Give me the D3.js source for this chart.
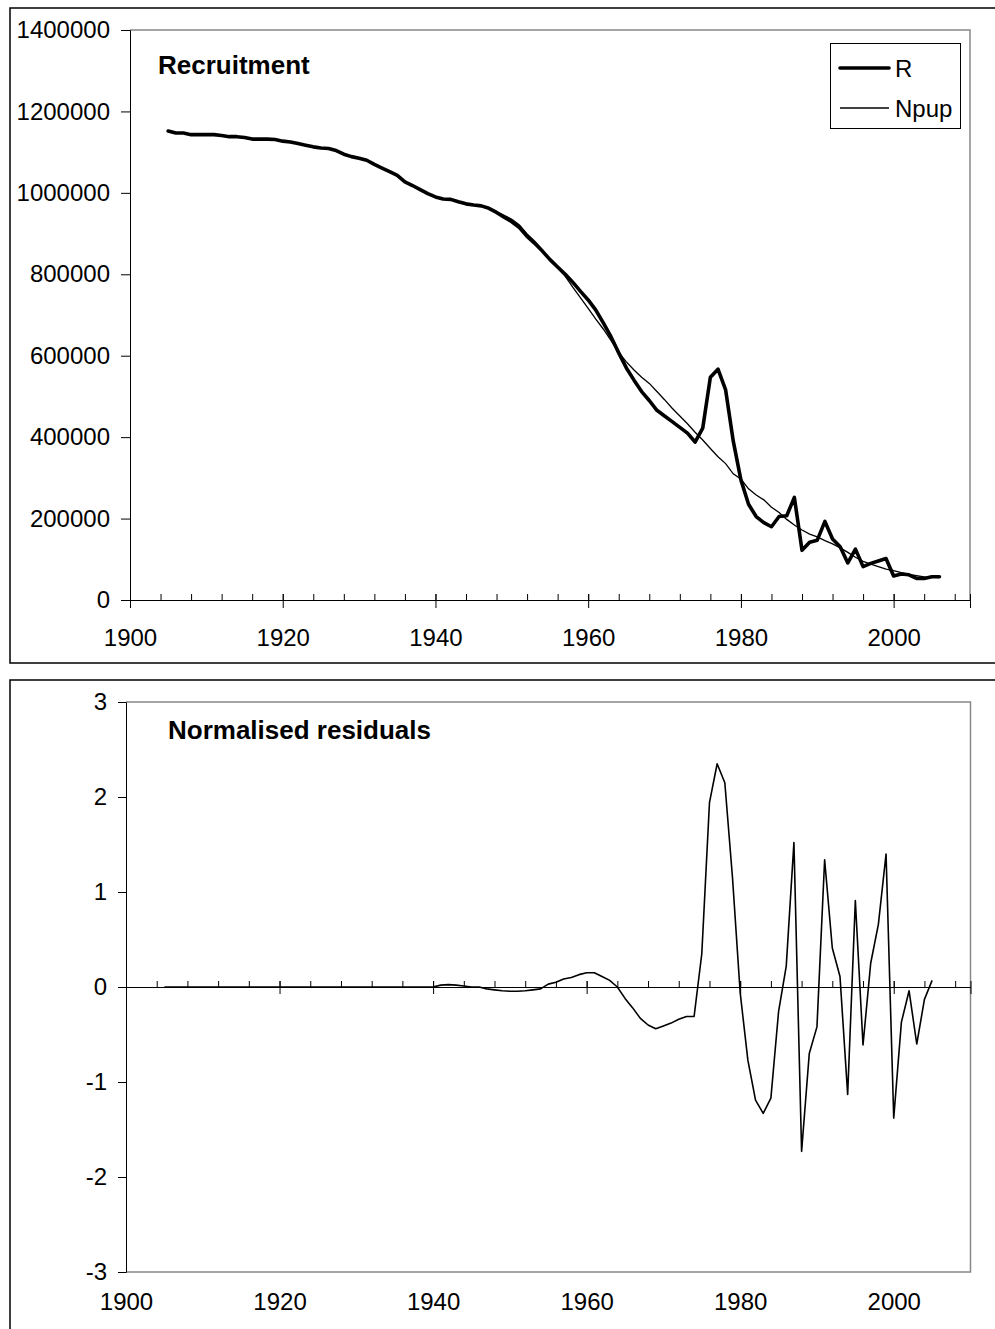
<!DOCTYPE html>
<html>
<head>
<meta charset="utf-8">
<script src="https://cdn.jsdelivr.net/npm/d3@7/dist/d3.min.js"></script>
<style>
  html, body { margin: 0; padding: 0; background: #fff; }
  svg { display: block; font-family: "Liberation Sans", Arial, sans-serif; }
  .tick text { fill: #000; }
</style>
</head>
<body>
<svg id="chart" width="995" height="1329"></svg>
<script>
// Recruitment series R and fitted pup numbers Npup, 1905-2006
const firstYear = 1905;
const recruitR = [
  1152000, 1147000, 1147000, 1143000, 1143000, 1143000, 1143000, 1141000, 1138000, 1138000,
  1136000, 1132000, 1132000, 1132000, 1131000, 1127000, 1125000, 1121000, 1117000, 1113000,
  1110000, 1109000, 1104000, 1095000, 1089000, 1085000, 1080000, 1070000, 1061000, 1052000,
  1043000, 1027000, 1018000, 1008000, 998000, 990000, 985000, 984000, 978000, 973000,
  970000, 968000, 962000, 952000, 940000, 929000, 915000, 893000, 876000, 857000,
  836000, 818000, 800000, 780000, 758000, 737000, 712000, 680000, 646000, 607000,
  570000, 540000, 512000, 490000, 466000, 452000, 438000, 424000, 410000, 388000,
  422000, 547000, 567000, 516000, 390000, 295000, 235000, 205000, 190000, 180000,
  205000, 207000, 252000, 122000, 142000, 147000, 193000, 150000, 131000, 91000,
  125000, 82000, 90000, 96000, 102000, 59000, 64000, 62000, 53000, 53000,
  57000, 57000
];
const pupsN = [
  1152000, 1147000, 1147000, 1143000, 1143000, 1143000, 1143000, 1141000, 1138000, 1138000,
  1136000, 1132000, 1132000, 1132000, 1131000, 1127000, 1125000, 1121000, 1117000, 1113000,
  1110000, 1109000, 1104000, 1095000, 1089000, 1085000, 1080000, 1070000, 1061000, 1052000,
  1043000, 1027000, 1018000, 1008000, 998000, 990000, 985000, 984000, 978000, 973000,
  970000, 968000, 963000, 954000, 945000, 935000, 921000, 899000, 881000, 860000,
  836000, 815000, 795000, 768000, 742000, 716000, 690000, 665000, 637000, 608000,
  585000, 565000, 547000, 532000, 512000, 492000, 471000, 452000, 433000, 412000,
  393000, 372000, 352000, 335000, 310000, 297000, 273000, 258000, 246000, 228000,
  215000, 198000, 184000, 172000, 162000, 155000, 146000, 138000, 128000, 117000,
  105000, 95000, 88000, 82000, 76000, 72000, 67000, 63000, 60000, 57000,
  56000, 55000
];
// Normalised residuals, 1905-2005
const residuals = [
  0, 0, 0, 0, 0, 0, 0, 0, 0, 0,
  0, 0, 0, 0, 0, 0, 0, 0, 0, 0,
  0, 0, 0, 0, 0, 0, 0, 0, 0, 0,
  0, 0, 0, 0, 0, 0, 0.02, 0.025, 0.02, 0.01,
  0, 0, -0.02, -0.03, -0.04, -0.045, -0.045, -0.04, -0.03, -0.02,
  0.03, 0.05, 0.085, 0.1, 0.13, 0.15, 0.15, 0.11, 0.07, 0.0,
  -0.12, -0.22, -0.33, -0.40, -0.44, -0.41, -0.38, -0.34, -0.31, -0.31,
  0.35, 1.94, 2.35, 2.15, 1.15, -0.06, -0.77, -1.19, -1.33, -1.17,
  -0.26, 0.22, 1.52, -1.73, -0.70, -0.42, 1.34, 0.41, 0.11, -1.13,
  0.91, -0.61, 0.25, 0.66, 1.40, -1.38, -0.37, -0.04, -0.60, -0.13,
  0.07
];

// Axis ticks
const yearDomain = [1900, 2010];
const majorYears = [1900, 1920, 1940, 1960, 1980, 2000];
const minorYears = d3.range(1900, 2010, 4);
const recruitTicks = [0, 200000, 400000, 600000, 800000, 1000000, 1200000, 1400000];
const residualTicks = [-3, -2, -1, 0, 1, 2, 3];

const seriesR = recruitR.map((v, i) => ({ year: firstYear + i, value: v }));
const seriesN = pupsN.map((v, i) => ({ year: firstYear + i, value: v }));
const seriesRes = residuals.map((v, i) => ({ year: firstYear + i, value: v }));

const svg = d3.select("#chart");
const FONT = 24;
// plain integers with an ASCII hyphen for negatives
const intFmt = d => String(Math.round(d));

function frame(y0, h) {
  svg.append("rect")
    .attr("x", 10).attr("y", y0).attr("width", 1000).attr("height", h)
    .attr("fill", "none").attr("stroke", "#000").attr("stroke-width", 1.5);
}

function styleAxis(g) {
  g.selectAll(".domain").attr("stroke", "#000").attr("stroke-width", 1);
  g.selectAll(".tick line").attr("stroke", "#000").attr("stroke-width", 1);
  g.selectAll(".tick text").attr("font-size", FONT);
}

// ---------- Recruitment panel ----------
frame(8, 655);
const p1 = { left: 130, right: 970, top: 30, bottom: 600 };
const x1 = d3.scaleLinear().domain(yearDomain).range([p1.left, p1.right]);
const y1 = d3.scaleLinear().domain([0, 1400000]).range([p1.bottom, p1.top]);

// plot area border (top / right in grey)
svg.append("path")
  .attr("d", `M${p1.left},${p1.top}H${p1.right}V${p1.bottom}`)
  .attr("fill", "none").attr("stroke", "#888").attr("stroke-width", 1.5);

svg.append("g").attr("transform", `translate(${p1.left},0)`)
  .call(d3.axisLeft(y1).tickValues(recruitTicks).tickSize(9).tickPadding(11).tickFormat(intFmt))
  .call(styleAxis);

svg.append("g").attr("transform", `translate(0,${p1.bottom})`)
  .call(d3.axisTop(x1).tickValues(minorYears).tickSize(6).tickFormat(""))
  .call(styleAxis);
svg.append("g").attr("transform", `translate(0,${p1.bottom})`)
  .call(d3.axisBottom(x1).tickValues(majorYears).tickSize(8).tickPadding(21).tickFormat(intFmt))
  .call(styleAxis)
  .call(g => g.selectAll(".tick line").attr("y1", -6));

const line1 = d3.line().x(d => x1(d.year)).y(d => y1(d.value));
svg.append("path").datum(seriesN)
  .attr("d", line1).attr("fill", "none").attr("stroke", "#000").attr("stroke-width", 1.3);
svg.append("path").datum(seriesR)
  .attr("d", line1).attr("fill", "none").attr("stroke", "#000").attr("stroke-width", 3.6)
  .attr("stroke-linejoin", "round").attr("stroke-linecap", "round");

svg.append("text").attr("x", 158).attr("y", 74)
  .attr("font-size", 26).attr("font-weight", "bold").text("Recruitment");

// legend
const lg = svg.append("g");
lg.append("rect").attr("x", 830.5).attr("y", 43.5).attr("width", 130).attr("height", 85)
  .attr("fill", "#fff").attr("stroke", "#000").attr("stroke-width", 1);
lg.append("line").attr("x1", 840).attr("x2", 889).attr("y1", 68).attr("y2", 68)
  .attr("stroke", "#000").attr("stroke-width", 3.6).attr("stroke-linecap", "round");
lg.append("line").attr("x1", 840).attr("x2", 889).attr("y1", 108).attr("y2", 108)
  .attr("stroke", "#000").attr("stroke-width", 1.3);
lg.append("text").attr("x", 895).attr("y", 76.5).attr("font-size", FONT).text("R");
lg.append("text").attr("x", 895).attr("y", 116.5).attr("font-size", FONT).text("Npup");

// ---------- Residuals panel ----------
frame(680, 700);
const p2 = { left: 126, right: 970.5, top: 702, bottom: 1272 };
const x2 = d3.scaleLinear().domain(yearDomain).range([p2.left, p2.right]);
const y2 = d3.scaleLinear().domain([-3, 3]).range([p2.bottom, p2.top]);

svg.append("path")
  .attr("d", `M${p2.left},${p2.top}H${p2.right}V${p2.bottom}H${p2.left}`)
  .attr("fill", "none").attr("stroke", "#888").attr("stroke-width", 1.5);

svg.append("g").attr("transform", `translate(${p2.left},0)`)
  .call(d3.axisLeft(y2).tickValues(residualTicks).tickSize(8).tickPadding(11).tickFormat(intFmt))
  .call(styleAxis);

const zeroY = y2(0);
svg.append("g").attr("transform", `translate(0,${zeroY})`)
  .call(d3.axisTop(x2).tickValues(minorYears).tickSize(6).tickFormat(""))
  .call(styleAxis);
svg.append("g").attr("transform", `translate(0,${zeroY})`)
  .call(d3.axisBottom(x2).tickValues(majorYears).tickSize(7).tickFormat(""))
  .call(styleAxis)
  .call(g => g.selectAll(".tick line").attr("y1", -6));
svg.append("g").attr("transform", `translate(0,${p2.bottom})`)
  .call(d3.axisBottom(x2).tickValues(majorYears).tickSize(0).tickPadding(21).tickFormat(intFmt))
  .call(styleAxis)
  .call(g => g.select(".domain").remove());

const line2 = d3.line().x(d => x2(d.year)).y(d => y2(d.value));
svg.append("path").datum(seriesRes)
  .attr("d", line2).attr("fill", "none").attr("stroke", "#000").attr("stroke-width", 1.6)
  .attr("stroke-linejoin", "round");

svg.append("text").attr("x", 168).attr("y", 739)
  .attr("font-size", 26).attr("font-weight", "bold").text("Normalised residuals");
</script>
</body>
</html>
